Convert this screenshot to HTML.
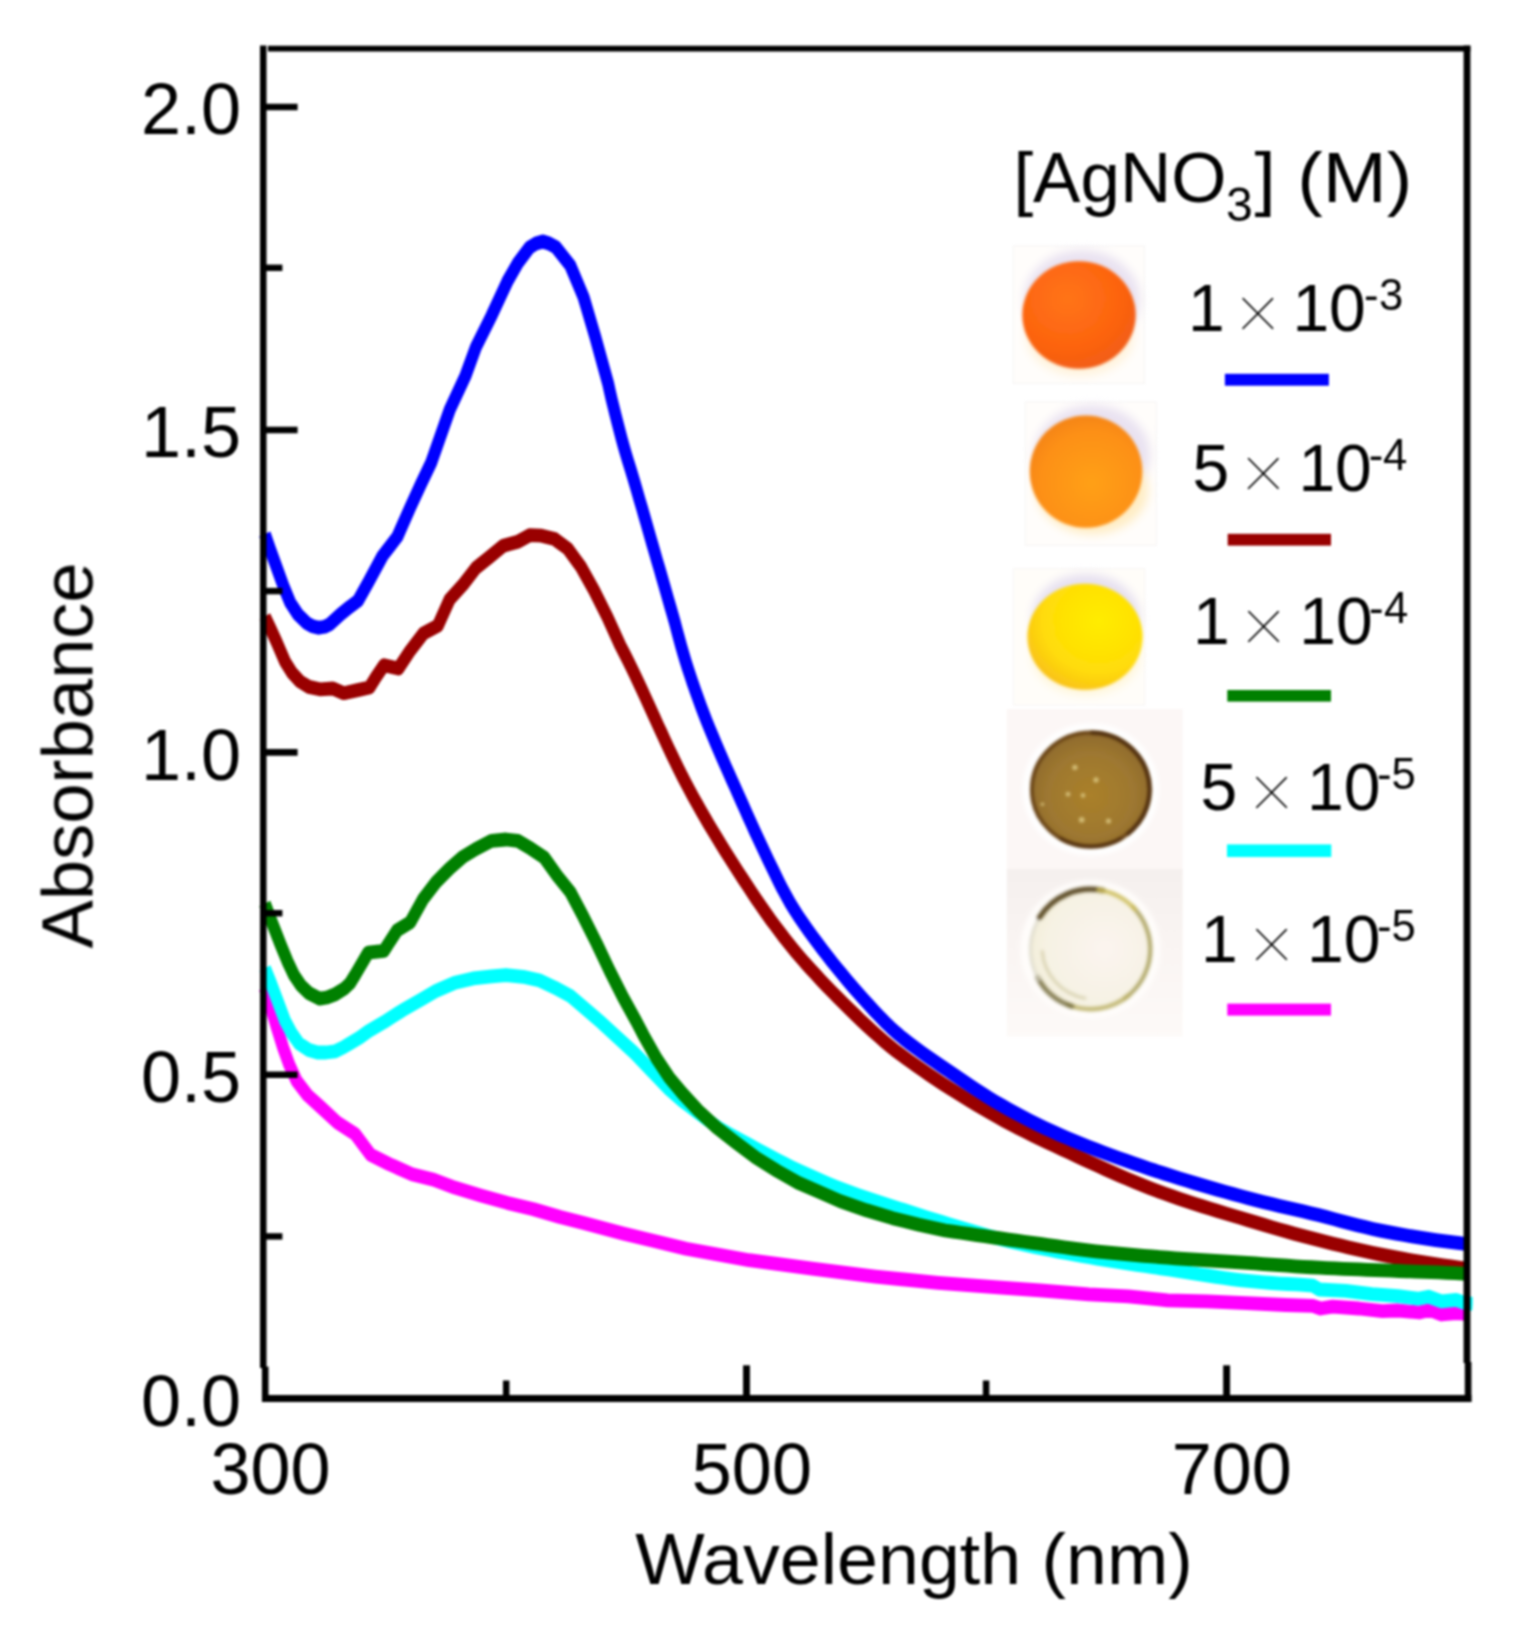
<!DOCTYPE html>
<html lang="en"><head><meta charset="utf-8"><title>UV-Vis absorbance</title>
<style>html,body{margin:0;padding:0;background:#fff}svg{display:block}</style></head>
<body>
<svg width="1523" height="1650" viewBox="0 0 1523 1650" font-family="'Liberation Sans', sans-serif" fill="#000">
<defs><filter id="soft" x="0" y="0" width="100%" height="100%" filterUnits="userSpaceOnUse" color-interpolation-filters="sRGB"><feGaussianBlur stdDeviation="0.9"/></filter></defs>
<rect width="1523" height="1650" fill="#fff"/>
<g filter="url(#soft)">
<clipPath id="cp"><rect x="255" y="40" width="1217.7" height="1370"/></clipPath>
<g clip-path="url(#cp)"><g fill="none" stroke-width="12" stroke-linejoin="round" stroke-linecap="butt" transform="scale(1 1.15)">
<polyline stroke="#ff00ff" points="264.8,859.13 271.0,876.52 277.0,893.91 283.3,911.48 289.2,925.65 296.6,939.91 307.5,952.26 320.6,962.61 337.3,976.09 355.1,986.09 370.8,1004.26 389.2,1012.26 412.8,1021.39 433.8,1025.91 454.9,1032.78 481.1,1039.65 507.4,1046.00 533.6,1051.48 560.0,1058.26 583.6,1063.48 623.0,1072.61 686.1,1085.91 749.1,1095.83 812.1,1103.22 875.2,1110.09 938.2,1115.57 1001.2,1119.65 1040.0,1122.00 1088.8,1125.57 1128.2,1127.30 1167.6,1130.70 1207.0,1131.57 1246.4,1133.22 1285.8,1134.78 1312.8,1135.57 1320.7,1137.83 1332.5,1136.17 1358.8,1137.83 1382.4,1140.17 1398.2,1139.57 1419.2,1141.30 1429.7,1139.04 1441.5,1143.04 1456.0,1141.83 1466.0,1142.43"/>
<polyline stroke="#00ffff" points="264.9,841.83 270.5,853.91 276.9,868.78 285.1,887.74 291.5,898.17 299.0,907.39 308.9,913.04 317.6,915.22 326.0,915.22 335.1,914.17 343.0,910.87 350.0,907.22 360.0,902.00 368.2,896.87 383.9,888.87 402.3,878.61 420.7,869.48 436.5,861.48 454.9,854.61 473.2,850.78 491.6,848.96 506.0,847.83 523.1,849.39 538.9,852.35 554.7,858.78 570.4,866.09 586.2,877.91 601.9,889.57 617.7,902.26 633.4,914.78 643.1,923.48 656.3,935.65 669.4,947.39 682.5,957.39 688.9,961.61 695.3,965.80 701.7,969.95 708.1,974.15 714.5,978.26 721.2,982.07 728.1,985.61 735.1,988.98 742.1,992.27 749.2,995.54 756.2,998.85 763.3,1002.15 770.4,1005.44 777.4,1008.69 784.5,1011.88 791.7,1014.99 798.9,1017.99 806.2,1020.89 813.5,1023.74 820.8,1026.52 828.2,1029.23 835.6,1031.86 843.0,1034.41 850.5,1036.86 858.0,1039.22 865.6,1041.48 873.2,1043.66 880.8,1045.80 888.4,1047.92 896.1,1050.03 903.7,1052.16 911.3,1054.29 918.9,1056.41 926.6,1058.51 934.2,1060.59 941.8,1062.64 949.5,1064.66 957.2,1066.64 964.8,1068.62 972.5,1070.60 980.2,1072.56 987.9,1074.47 995.6,1076.31 1003.3,1078.06 1011.1,1079.70 1018.9,1081.26 1026.7,1082.77 1034.5,1084.23 1042.3,1085.63 1050.2,1087.00 1058.1,1088.33 1065.9,1089.61 1073.8,1090.87 1081.7,1092.10 1089.6,1093.30 1097.4,1094.46 1105.3,1095.58 1113.2,1096.68 1121.1,1097.75 1129.0,1098.79 1137.0,1099.82 1144.9,1100.85 1152.8,1101.86 1160.7,1102.87 1168.6,1103.91 1176.5,1104.98 1184.4,1106.07 1192.4,1107.16 1200.3,1108.24 1208.2,1109.30 1216.1,1110.33 1224.0,1111.32 1232.0,1112.25 1239.9,1113.10 1247.8,1113.88 1255.8,1114.55 1263.7,1115.13 1271.7,1115.65 1279.7,1116.12 1287.7,1116.53 1295.7,1116.88 1300.0,1117.04 1312.8,1117.91 1319.4,1121.30 1345.7,1122.43 1371.9,1125.30 1398.2,1127.04 1417.9,1129.30 1428.4,1127.57 1441.5,1131.57 1456.0,1130.43 1463.8,1132.70 1473.0,1133.91"/>
<polyline stroke="#990000" points="264.8,536.09 270.5,546.52 276.7,558.43 285.1,575.48 292.0,584.96 300.0,592.61 308.9,597.30 319.8,599.39 332.9,598.70 343.8,602.78 357.7,600.09 369.5,597.83 376.0,588.70 384.0,578.43 398.4,581.39 410.2,565.83 423.3,550.96 437.8,544.17 449.6,521.30 462.7,508.78 475.9,493.91 489.0,484.78 503.4,474.52 517.9,471.04 529.7,465.39 541.5,465.83 554.7,468.78 567.8,477.22 580.9,492.78 594.0,513.30 607.2,536.17 620.3,561.30 624.0,567.49 627.6,573.70 631.1,579.94 634.6,586.21 638.0,592.50 641.4,598.81 644.8,605.14 648.1,611.48 651.4,617.82 654.7,624.17 658.0,630.52 661.4,636.85 664.7,643.18 668.1,649.49 671.5,655.78 675.0,662.05 678.5,668.29 682.0,674.49 685.7,680.66 689.4,686.79 693.2,692.88 697.1,698.95 701.0,704.99 705.0,711.02 709.0,717.03 713.1,723.01 717.3,728.98 721.5,734.92 725.7,740.85 730.0,746.75 734.3,752.63 738.6,758.49 743.0,764.33 747.4,770.15 751.8,775.95 756.2,781.72 760.7,787.47 765.3,793.18 769.9,798.84 774.7,804.45 779.5,810.02 784.3,815.54 789.3,821.02 794.3,826.43 799.5,831.74 804.7,836.96 810.1,842.14 815.5,847.27 820.9,852.35 826.5,857.40 832.0,862.40 837.7,867.37 843.3,872.29 849.0,877.19 854.8,882.05 860.5,886.87 866.3,891.66 872.2,896.37 878.2,901.01 884.2,905.55 890.4,910.03 896.6,914.38 903.0,918.53 909.5,922.60 916.0,926.64 922.5,930.62 929.1,934.56 935.8,938.45 942.5,942.30 949.2,946.09 956.0,949.84 962.8,953.53 969.6,957.17 976.5,960.76 983.4,964.29 990.3,967.77 997.3,971.19 1004.2,974.55 1011.3,977.82 1018.4,981.03 1025.5,984.16 1032.7,987.24 1039.9,990.28 1047.2,993.27 1054.4,996.24 1061.6,999.19 1068.9,1002.14 1076.1,1005.09 1083.4,1008.03 1090.7,1010.95 1098.0,1013.86 1105.3,1016.73 1112.6,1019.57 1119.9,1022.36 1127.3,1025.11 1134.7,1027.80 1142.1,1030.42 1149.5,1032.97 1156.9,1035.44 1164.4,1037.84 1171.9,1040.16 1179.5,1042.42 1187.1,1044.63 1194.7,1046.80 1202.3,1048.91 1209.9,1051.00 1217.6,1053.05 1225.3,1055.07 1232.9,1057.08 1240.6,1059.07 1248.3,1061.06 1256.0,1063.04 1263.6,1065.03 1271.3,1067.01 1279.0,1068.97 1286.7,1070.90 1294.4,1072.78 1302.1,1074.62 1309.8,1076.39 1317.6,1078.12 1325.3,1079.82 1333.1,1081.50 1340.9,1083.15 1348.6,1084.76 1356.4,1086.33 1364.3,1087.86 1372.1,1089.33 1379.9,1090.75 1387.7,1092.10 1395.6,1093.40 1403.5,1094.65 1411.3,1095.86 1419.2,1097.02 1427.1,1098.14 1435.0,1099.22 1442.9,1100.27 1450.9,1101.27 1458.8,1102.22 1466.0,1103.04"/>
<polyline stroke="#008000" points="264.8,785.65 271.4,800.87 280.7,821.57 287.3,835.57 293.9,847.91 301.0,856.96 308.9,863.57 319.8,868.43 327.0,867.39 335.1,864.70 344.5,859.57 350.0,855.04 355.1,847.83 368.2,828.35 383.9,826.78 397.1,808.96 410.2,802.09 423.3,781.57 436.5,766.70 449.6,755.22 462.7,745.22 475.9,738.26 491.6,731.13 506.0,730.00 517.9,731.13 531.0,738.00 544.2,745.65 557.3,761.57 570.4,775.83 583.6,797.57 596.7,820.35 609.8,844.35 622.9,866.96 636.1,887.83 643.1,899.48 656.3,920.00 669.4,937.13 682.5,950.78 698.3,965.65 716.7,980.52 735.1,993.04 756.1,1006.78 777.1,1018.17 798.1,1028.43 819.1,1036.43 840.1,1044.43 866.4,1052.43 892.6,1059.30 918.9,1065.04 945.2,1070.00 953.1,1070.99 961.0,1071.98 969.0,1072.97 976.9,1073.95 984.8,1074.93 992.7,1075.91 1000.6,1076.88 1008.6,1077.85 1016.5,1078.82 1024.4,1079.78 1032.3,1080.74 1040.3,1081.69 1048.2,1082.64 1056.1,1083.59 1064.0,1084.57 1072.0,1085.54 1079.9,1086.46 1087.8,1087.30 1095.8,1088.05 1103.7,1088.78 1111.7,1089.47 1119.6,1090.14 1127.6,1090.77 1135.6,1091.38 1143.6,1091.97 1151.5,1092.54 1159.5,1093.10 1167.5,1093.63 1175.5,1094.14 1183.4,1094.63 1191.4,1095.11 1199.4,1095.57 1207.4,1096.02 1215.4,1096.46 1223.4,1096.90 1231.3,1097.34 1239.3,1097.78 1247.3,1098.23 1255.3,1098.68 1263.3,1099.15 1271.3,1099.64 1279.2,1100.15 1287.2,1100.64 1295.2,1101.12 1303.2,1101.57 1311.2,1101.97 1319.2,1102.33 1327.1,1102.67 1335.1,1102.99 1343.1,1103.30 1351.1,1103.60 1359.1,1103.89 1367.1,1104.16 1375.1,1104.44 1383.1,1104.71 1391.1,1104.98 1399.1,1105.23 1407.1,1105.47 1415.1,1105.70 1423.1,1105.94 1431.1,1106.20 1439.1,1106.49 1447.1,1106.81 1455.0,1107.15 1463.0,1107.51 1466.0,1107.65"/>
<polyline stroke="#0000ff" points="264.8,464.35 270.0,477.39 275.3,490.09 284.0,510.96 290.4,524.26 298.0,534.35 306.7,541.83 312.5,544.61 318.7,545.91 324.5,545.04 329.6,542.96 340.5,534.26 350.0,527.57 358.0,522.35 368.2,506.61 382.5,483.48 397.3,466.78 410.0,441.74 421.0,420.87 431.2,402.26 449.6,356.61 465.4,326.96 475.9,301.83 491.6,274.43 507.4,244.70 517.9,228.70 529.7,215.04 536.0,211.74 542.8,210.00 549.0,211.74 556.0,215.04 570.4,231.04 583.6,258.43 595.2,292.70 608.2,333.74 609.9,340.53 611.7,347.32 613.6,354.09 615.5,360.84 617.5,367.59 619.5,374.32 621.5,381.04 623.6,387.74 625.8,394.43 628.1,401.09 630.5,407.75 632.8,414.41 635.1,421.08 637.3,427.76 639.5,434.44 641.8,441.12 644.0,447.81 646.2,454.49 648.4,461.18 650.6,467.87 652.8,474.55 655.0,481.24 657.2,487.92 659.5,494.60 661.7,501.29 663.9,507.97 666.1,514.65 668.3,521.34 670.5,528.03 672.7,534.72 674.9,541.42 676.9,548.14 679.0,554.86 681.1,561.58 683.3,568.27 685.6,574.93 688.0,581.57 690.5,588.18 693.0,594.77 695.7,601.34 698.4,607.89 701.1,614.42 703.9,620.93 706.8,627.42 709.8,633.87 712.9,640.30 716.0,646.71 719.1,653.10 722.3,659.48 725.5,665.85 728.8,672.22 732.0,678.57 735.3,684.93 738.5,691.28 741.8,697.64 745.1,703.99 748.3,710.34 751.6,716.68 754.9,723.01 758.3,729.33 761.7,735.64 765.1,741.92 768.5,748.20 772.0,754.48 775.5,760.75 779.0,767.00 782.6,773.20 786.4,779.33 790.3,785.38 794.5,791.35 798.8,797.20 803.3,802.91 807.9,808.57 812.6,814.20 817.4,819.80 822.2,825.37 827.1,830.90 832.0,836.39 837.1,841.85 842.2,847.26 847.3,852.62 852.5,857.93 857.8,863.20 863.1,868.41 868.5,873.56 873.9,878.66 879.4,883.70 884.9,888.67 890.7,893.52 896.6,898.20 902.7,902.65 909.0,906.95 915.4,911.14 921.9,915.23 928.4,919.24 935.0,923.20 941.6,927.13 948.3,931.05 954.9,934.98 961.5,938.91 968.1,942.83 974.8,946.70 981.5,950.51 988.2,954.23 995.1,957.84 1002.0,961.32 1008.9,964.73 1015.9,968.07 1023.0,971.35 1030.1,974.56 1037.3,977.69 1044.5,980.72 1051.8,983.67 1059.0,986.51 1066.4,989.26 1073.7,991.95 1081.1,994.58 1088.5,997.16 1096.0,999.69 1103.5,1002.16 1111.0,1004.59 1118.5,1006.98 1126.1,1009.32 1133.7,1011.61 1141.2,1013.87 1148.8,1016.10 1156.4,1018.28 1164.0,1020.44 1171.6,1022.56 1179.2,1024.64 1186.9,1026.69 1194.5,1028.71 1202.2,1030.69 1209.9,1032.64 1217.6,1034.56 1225.3,1036.44 1233.0,1038.30 1240.8,1040.12 1248.5,1041.91 1256.2,1043.67 1264.0,1045.40 1271.7,1047.05 1279.5,1048.64 1287.3,1050.20 1295.1,1051.76 1302.9,1053.32 1310.7,1054.93 1318.5,1056.60 1326.2,1058.33 1334.0,1060.10 1341.7,1061.87 1349.5,1063.63 1357.2,1065.36 1365.0,1067.02 1372.8,1068.61 1380.6,1070.09 1388.4,1071.45 1396.3,1072.73 1404.1,1073.94 1412.0,1075.10 1419.9,1076.21 1427.9,1077.27 1435.8,1078.29 1443.7,1079.27 1451.6,1080.19 1459.6,1081.07 1466.0,1081.74"/>
</g></g>
<g stroke="#000" fill="none">
<line x1="263.25" y1="45.6" x2="263.25" y2="1368" stroke-width="6.5"/>
<line x1="268" y1="48.6" x2="1470.4" y2="48.6" stroke-width="5.6"/>
<line x1="1467" y1="45.6" x2="1467" y2="1363" stroke-width="6.8"/>
<line x1="262" y1="1398.5" x2="1471.4" y2="1398.5" stroke-width="7.1"/>
<line x1="263" y1="107" x2="297.6" y2="107" stroke-width="6.6"/>
<line x1="263" y1="430" x2="297.6" y2="430" stroke-width="6.6"/>
<line x1="263" y1="752.4" x2="297.6" y2="752.4" stroke-width="6.6"/>
<line x1="263" y1="1074.8" x2="297.6" y2="1074.8" stroke-width="6.6"/>
<line x1="263" y1="267.8" x2="282.4" y2="267.8" stroke-width="6.4"/>
<line x1="263" y1="591.1" x2="282.4" y2="591.1" stroke-width="6.4"/>
<line x1="263" y1="913.2" x2="282.4" y2="913.2" stroke-width="6.4"/>
<line x1="263" y1="1236.4" x2="282.4" y2="1236.4" stroke-width="6.4"/>
<line x1="265.2" y1="1366.6" x2="265.2" y2="1402" stroke-width="6.6"/>
<line x1="746.5" y1="1365.3" x2="746.5" y2="1398" stroke-width="6.9"/>
<line x1="1226.6" y1="1365.3" x2="1226.6" y2="1398" stroke-width="6.9"/>
<line x1="506.2" y1="1380.5" x2="506.2" y2="1398" stroke-width="6.5"/>
<line x1="986.1" y1="1380.5" x2="986.1" y2="1398" stroke-width="6.5"/>
<line x1="1468.1" y1="1362" x2="1468.1" y2="1402" stroke-width="6.6"/>
</g>
<g font-size="72px">
<text x="241" y="134.3" text-anchor="end">2.0</text>
<text x="241" y="457.3" text-anchor="end">1.5</text>
<text x="241" y="779.7" text-anchor="end">1.0</text>
<text x="241" y="1102.1" text-anchor="end">0.5</text>
<text x="241" y="1425.7" text-anchor="end">0.0</text>
<text x="270.6" y="1494" text-anchor="middle">300</text>
<text x="751.9" y="1494" text-anchor="middle">500</text>
<text x="1231.7" y="1494" text-anchor="middle">700</text>
</g>
<text x="914.1" y="1584" font-size="72px" text-anchor="middle" textLength="557.5" lengthAdjust="spacingAndGlyphs">Wavelength (nm)</text>
<text transform="translate(92.5 755.4) rotate(-90)" font-size="72px" text-anchor="middle" textLength="386" lengthAdjust="spacingAndGlyphs">Absorbance</text>
<defs>
<filter id="bl2" x="-30%" y="-30%" width="160%" height="160%"><feGaussianBlur stdDeviation="2"/></filter>
<filter id="bl1" x="-30%" y="-30%" width="160%" height="160%"><feGaussianBlur stdDeviation="1.1"/></filter>
<filter id="bl17" x="-30%" y="-30%" width="160%" height="160%"><feGaussianBlur stdDeviation="1.7"/></filter>
<filter id="bl5" x="-30%" y="-30%" width="160%" height="160%"><feGaussianBlur stdDeviation="5"/></filter>
<radialGradient id="g1" cx="0.4" cy="0.35" r="0.75"><stop offset="0" stop-color="#ff7416"/><stop offset="0.6" stop-color="#fd6410"/><stop offset="1" stop-color="#ee5a14"/></radialGradient>
<radialGradient id="g2" cx="0.55" cy="0.6" r="0.7"><stop offset="0" stop-color="#ffa012"/><stop offset="0.65" stop-color="#fd9012"/><stop offset="1" stop-color="#f07e18"/></radialGradient>
<radialGradient id="g3" cx="0.62" cy="0.35" r="0.8"><stop offset="0" stop-color="#ffec00"/><stop offset="0.6" stop-color="#ffdc08"/><stop offset="1" stop-color="#f6b420"/></radialGradient>
<radialGradient id="g4" cx="0.5" cy="0.55" r="0.6"><stop offset="0" stop-color="#aa802a"/><stop offset="0.6" stop-color="#9e7830"/><stop offset="1" stop-color="#8a662e"/></radialGradient>
<linearGradient id="g5r" x1="0.1" y1="0" x2="0.9" y2="1"><stop offset="0" stop-color="#5e5630"/><stop offset="0.45" stop-color="#c9c29a"/><stop offset="0.6" stop-color="#efe8cf"/><stop offset="1" stop-color="#a8a070"/></linearGradient>
<radialGradient id="g5f" cx="0.62" cy="0.5" r="0.7"><stop offset="0" stop-color="#fbf4ef"/><stop offset="0.7" stop-color="#f6f2e3"/><stop offset="1" stop-color="#f1edd6"/></radialGradient>
<linearGradient id="bg5" x1="0" y1="0" x2="0" y2="1"><stop offset="0" stop-color="#f5f0ee"/><stop offset="0.5" stop-color="#faf5f3"/><stop offset="1" stop-color="#fdfaf8"/></linearGradient>
</defs>
<g>
<rect x="1013.2" y="246" width="131.3" height="137.4" fill="#fffdfb" stroke="#f6f4f3" stroke-width="1"/>
<ellipse cx="1082" cy="300" rx="58" ry="50" fill="#e9e2f1" filter="url(#bl5)"/>
<ellipse cx="1080" cy="336" rx="54" ry="40" fill="#fff3dc" filter="url(#bl5)"/>
<ellipse cx="1079" cy="315" rx="56.7" ry="53.8" fill="url(#g1)" filter="url(#bl1)"/>
</g>
<g>
<rect x="1025.2" y="402" width="131" height="143.3" fill="#fffdfb" stroke="#f6f4f3" stroke-width="1"/>
<ellipse cx="1092" cy="455" rx="58" ry="50" fill="#e9e2f1" filter="url(#bl5)"/>
<ellipse cx="1092" cy="490" rx="56" ry="44" fill="#ffedc4" filter="url(#bl5)"/>
<ellipse cx="1086" cy="471.6" rx="56.3" ry="56.2" fill="url(#g2)" filter="url(#bl1)"/>
</g>
<g>
<rect x="1013.4" y="568.5" width="131.5" height="136.5" fill="#fffdf9" stroke="#f7f5f4" stroke-width="1"/>
<ellipse cx="1086" cy="618" rx="54" ry="44" fill="#e6e0f0" filter="url(#bl5)"/>
<ellipse cx="1086" cy="655" rx="54" ry="40" fill="#fff6d8" filter="url(#bl5)"/>
<ellipse cx="1085" cy="636.8" rx="57.6" ry="53" fill="url(#g3)" filter="url(#bl1)"/>
</g>
<g>
<rect x="1006.8" y="709" width="176" height="160" fill="#fcf7f6"/>
<ellipse cx="1090.7" cy="789.5" rx="68" ry="66" fill="#ffffff" filter="url(#bl2)"/>
<ellipse cx="1090.7" cy="789.5" rx="58.8" ry="57" fill="url(#g4)" stroke="#6a4416" stroke-width="4" filter="url(#bl1)"/>
<path d="M1090.7 732.5 A58.8 57 0 0 1 1127 834.5" fill="none" stroke="#4a2a0c" stroke-width="3.6" opacity="0.75" filter="url(#bl1)"/>
<path d="M1060 838 A58.8 57 0 0 0 1122 838" fill="none" stroke="#4a2a0c" stroke-width="3.2" opacity="0.6" filter="url(#bl1)"/>
<circle cx="1074.9" cy="767.4" r="2.7" fill="#dcc882" opacity="0.85" filter="url(#bl1)"/>
<circle cx="1096" cy="779.9" r="2.7" fill="#dcc882" opacity="0.85" filter="url(#bl1)"/>
<circle cx="1068" cy="794.2" r="2.4" fill="#dcc882" opacity="0.85" filter="url(#bl1)"/>
<circle cx="1083" cy="795.4" r="2.3" fill="#dcc882" opacity="0.85" filter="url(#bl1)"/>
<circle cx="1081.7" cy="819.8" r="2.9" fill="#dcc882" opacity="0.85" filter="url(#bl1)"/>
<circle cx="1108.5" cy="821" r="2.6" fill="#dcc882" opacity="0.85" filter="url(#bl1)"/>
<circle cx="1042.4" cy="804.2" r="1.8" fill="#dcc882" opacity="0.85" filter="url(#bl1)"/>
</g>
<g>
<rect x="1006.8" y="869" width="176" height="167.5" fill="url(#bg5)"/>
<ellipse cx="1090.4" cy="949.2" rx="70" ry="69" fill="#fffdfb" filter="url(#bl2)"/>
<circle cx="1090.4" cy="949.2" r="60" fill="url(#g5f)" filter="url(#bl1)"/>
<g fill="none" filter="url(#bl17)" stroke-linecap="round">
<path d="M1132.8 906.8 A60 60 0 0 1 1124.8 998.3" stroke="#a39a52" stroke-width="4.2" opacity="0.85"/>
<path d="M1129.0 995.2 A60 60 0 0 1 1067.9 1004.8" stroke="#b8ae62" stroke-width="4.4" opacity="0.85"/>
<path d="M1071.9 1006.3 A60 60 0 0 1 1037.4 977.4" stroke="#6a6130" stroke-width="5" opacity="0.8"/>
<path d="M1038.4 979.2 A60 60 0 0 1 1041.3 914.8" stroke="#d9d5c6" stroke-width="3.5" opacity="0.7"/>
<path d="M1039.5 917.4 A60 60 0 0 1 1102.9 890.5" stroke="#55431a" stroke-width="5.4" opacity="0.95"/>
<path d="M1098.8 889.8 A60 60 0 0 1 1135.0 909.1" stroke="#c9b94f" stroke-width="4.2" opacity="0.85"/>
<path d="M1085.0 998.2 A52 52 0 0 1 1042.2 951.5" stroke="#cfc8a0" stroke-width="3" opacity="0.7"/>
</g>
</g>
<g font-size="70.5px">
<text x="1013.4" y="201.8" textLength="213" lengthAdjust="spacingAndGlyphs">[AgNO</text>
<text x="1226" y="220.6" font-size="48px">3</text>
<text x="1254.5" y="201.8" textLength="157.8" lengthAdjust="spacingAndGlyphs">] (M)</text>
</g>
<g font-size="66px">
<text x="1187.9" y="330.6">1</text>
<text x="1233.0" y="341.5" font-size="85px" stroke="#fff" stroke-width="4.4">×</text>
<text x="1292.4" y="330.6">10</text>
<text x="1363.9" y="309.6" font-size="43.6px">-</text>
<text x="1378.9" y="309.6" font-size="43.6px">3</text>
<text x="1192.4" y="491.2">5</text>
<text x="1238.4" y="502.1" font-size="85px" stroke="#fff" stroke-width="4.4">×</text>
<text x="1298.4" y="491.2">10</text>
<text x="1368.7" y="469.6" font-size="43.6px">-</text>
<text x="1383.1" y="469.6" font-size="43.6px">4</text>
<text x="1193.1" y="644.0">1</text>
<text x="1238.8" y="654.9" font-size="85px" stroke="#fff" stroke-width="4.4">×</text>
<text x="1299.2" y="644.0">10</text>
<text x="1369.0" y="623.0" font-size="43.6px">-</text>
<text x="1383.9" y="623.0" font-size="43.6px">4</text>
<text x="1200.6" y="809.6">5</text>
<text x="1246.8" y="820.5" font-size="85px" stroke="#fff" stroke-width="4.4">×</text>
<text x="1307.0" y="809.6">10</text>
<text x="1376.9" y="788.8" font-size="43.6px">-</text>
<text x="1391.5" y="788.8" font-size="43.6px">5</text>
<text x="1201.0" y="961.7">1</text>
<text x="1246.8" y="972.6" font-size="85px" stroke="#fff" stroke-width="4.4">×</text>
<text x="1307.0" y="961.7">10</text>
<text x="1376.9" y="941.2" font-size="43.6px">-</text>
<text x="1391.5" y="941.2" font-size="43.6px">5</text>
</g>
<rect x="1224.9" y="373.8" width="104.0" height="11.9" fill="#0000ff"/>
<rect x="1227.7" y="533.8" width="103.3" height="11.8" fill="#990000"/>
<rect x="1227.3" y="690" width="103.7" height="11.6" fill="#008000"/>
<rect x="1227" y="844.4" width="104.3" height="12.6" fill="#00ffff"/>
<rect x="1227.3" y="1003.6" width="103.7" height="12.0" fill="#ff00ff"/>
</g>
</svg>
</body></html>
